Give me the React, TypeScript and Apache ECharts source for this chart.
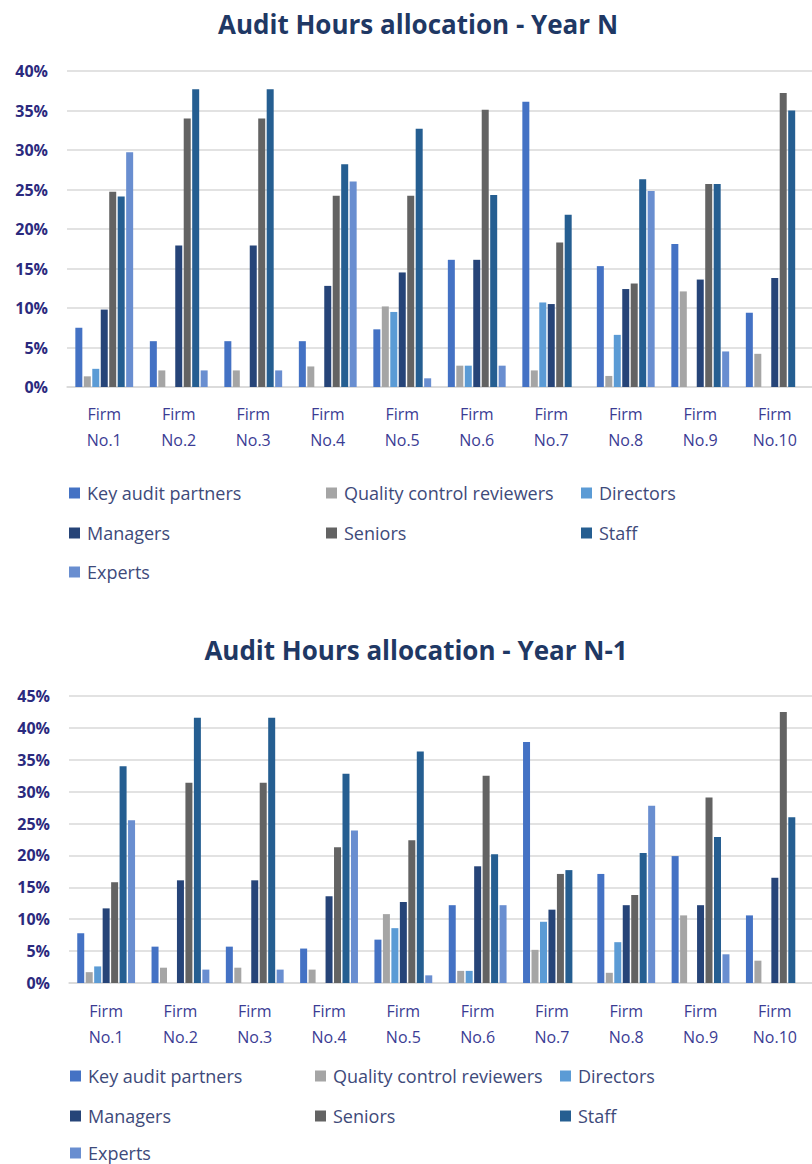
import React, { useEffect, useRef } from "react";
import * as echarts from "echarts";

const firms = ["Firm\nNo.1", "Firm\nNo.2", "Firm\nNo.3", "Firm\nNo.4", "Firm\nNo.5", "Firm\nNo.6", "Firm\nNo.7", "Firm\nNo.8", "Firm\nNo.9", "Firm\nNo.10"];
const seriesNames = ["Key audit partners", "Quality control reviewers", "Directors", "Managers", "Seniors", "Staff", "Experts"];
const seriesColors = ["#4472C4", "#A5A5A5", "#5B9BD5", "#264478", "#636363", "#255E91", "#698ED0"];

// Year N (percent)
const nKeyAudit = [7.5, 5.8, 5.8, 5.8, 7.3, 16.1, 36.1, 15.3, 18.1, 9.4];
const nQuality = [1.35, 2.1, 2.1, 2.6, 10.2, 2.7, 2.1, 1.4, 12.1, 4.2];
const nDirectors = [2.3, 0, 0, 0, 9.5, 2.7, 10.7, 6.6, 0, 0];
const nManagers = [9.8, 17.9, 17.9, 12.8, 14.5, 16.1, 10.5, 12.4, 13.6, 13.8];
const nSeniors = [24.7, 34.0, 34.0, 24.2, 24.2, 35.1, 18.3, 13.1, 25.7, 37.2];
const nStaff = [24.1, 37.7, 37.7, 28.2, 32.7, 24.3, 21.8, 26.3, 25.7, 35.0];
const nExperts = [29.7, 2.1, 2.1, 26.0, 1.1, 2.7, 0, 24.8, 4.5, 0];

// Year N-1 (percent)
const pKeyAudit = [7.8, 5.7, 5.7, 5.4, 6.8, 12.2, 37.8, 17.1, 19.9, 10.6];
const pQuality = [1.7, 2.4, 2.4, 2.1, 10.8, 1.9, 5.2, 1.6, 10.6, 3.5];
const pDirectors = [2.6, 0, 0, 0, 8.6, 1.9, 9.6, 6.4, 0, 0];
const pManagers = [11.7, 16.1, 16.1, 13.6, 12.7, 18.3, 11.5, 12.2, 12.2, 16.5];
const pSeniors = [15.8, 31.4, 31.4, 21.3, 22.4, 32.5, 17.1, 13.8, 29.1, 42.5];
const pStaff = [34.0, 41.6, 41.6, 32.8, 36.3, 20.2, 17.7, 20.4, 22.9, 26.0];
const pExperts = [25.5, 2.1, 2.1, 23.9, 1.2, 12.2, 0, 27.8, 4.5, 0];

const titles = ["Audit Hours allocation - Year N", "Audit Hours allocation - Year N-1"];

const FONT = "'Open Sans', 'Noto Sans', sans-serif";

export default function App() {
  const ref = useRef<HTMLDivElement>(null);
  useEffect(() => {
    if (!ref.current) return;
    const chart = echarts.init(ref.current, null, { renderer: "svg" });
    const dataSets = [
      [nKeyAudit, nQuality, nDirectors, nManagers, nSeniors, nStaff, nExperts],
      [pKeyAudit, pQuality, pDirectors, pManagers, pSeniors, pStaff, pExperts],
    ];
    const mkY = (idx: number, max: number) => ({
      type: "value",
      gridIndex: idx,
      min: 0,
      max,
      interval: 5,
      axisLine: { show: false },
      axisTick: { show: false },
      splitLine: { lineStyle: { color: "#D9D9D9", width: 1.5 } },
      axisLabel: {
        formatter: "{value}%",
        color: "#2B2A7E",
        fontFamily: FONT,
        fontWeight: "bold",
        fontSize: 16,
        margin: 19,
      },
    });
    const mkX = (idx: number, margin: number) => ({
      type: "category",
      gridIndex: idx,
      data: firms,
      axisTick: { show: false },
      axisLine: { lineStyle: { color: "#D9D9D9", width: 1.5 } },
      axisLabel: {
        color: "#3B3C94",
        fontFamily: FONT,
        fontSize: 16,
        lineHeight: 26,
        margin,
        interval: 0,
      },
    });
    const series: any[] = [];
    dataSets.forEach((set, gi) => {
      set.forEach((vals, si) => {
        series.push({
          type: "bar",
          name: seriesNames[si],
          xAxisIndex: gi,
          yAxisIndex: gi,
          data: vals,
          barWidth: 7,
          barGap: "21%",
          itemStyle: { color: seriesColors[si] },
        });
      });
    });
    // legend cell layout: [series index, column, row]
    const cells = [
      [0, 0, 0], [1, 1, 0], [2, 2, 0],
      [3, 0, 1], [4, 1, 1], [5, 2, 1],
      [6, 0, 2],
    ];
    const mkLegends = (lefts: number[], rowCenters: number[]) =>
      cells.map(([si, ci, ri]) => ({
        orient: "horizontal",
        left: lefts[ci],
        top: rowCenters[ri] - 8,
        padding: 0,
        itemWidth: 11,
        itemHeight: 11,
        icon: "rect",
        data: [seriesNames[si]],
        textStyle: {
          color: "#3E4A7A",
          fontFamily: FONT,
          fontSize: 18,
          lineHeight: 16,
          padding: [0, 0, 0, 2],
        },
      }));
    chart.setOption({
      animation: false,
      backgroundColor: "#FFFFFF",
      title: [
        {
          text: titles[0],
          left: 418,
          top: 8,
          textAlign: "center",
          padding: 0,
          textStyle: { color: "#1F3864", fontFamily: FONT, fontWeight: "bold", fontSize: 26, lineHeight: 32 },
        },
        {
          text: titles[1],
          left: 416,
          top: 634,
          textAlign: "center",
          padding: 0,
          textStyle: { color: "#1F3864", fontFamily: FONT, fontWeight: "bold", fontSize: 26, lineHeight: 32 },
        },
      ],
      grid: [
        { left: 67, top: 71, width: 750, height: 316 },
        { left: 69, top: 696, width: 745, height: 287 },
      ],
      xAxis: [mkX(0, 14), mkX(1, 15)],
      yAxis: [mkY(0, 40), mkY(1, 45)],
      legend: [...mkLegends([69, 326, 581], [492, 532, 571]), ...mkLegends([70, 315, 560], [1075, 1115, 1152])],
      series,
    });
    return () => chart.dispose();
  }, []);
  return <div ref={ref} style={{ position: "absolute", left: 0, top: 0, width: 812, height: 1164 }} />;
}
